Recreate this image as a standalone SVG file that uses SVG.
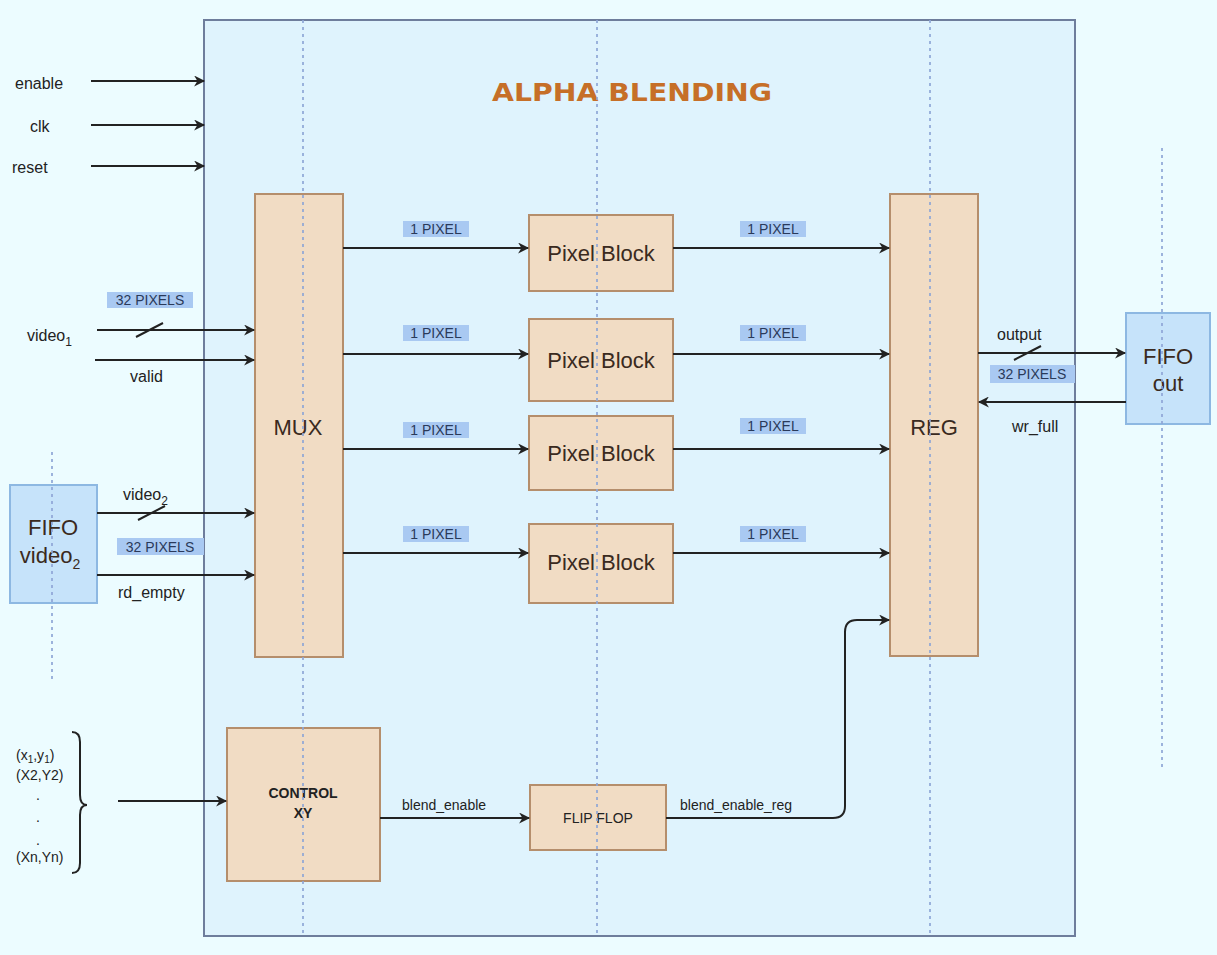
<svg xmlns="http://www.w3.org/2000/svg" width="1217" height="955" viewBox="0 0 1217 955">
<style>
.lbl{font-family:"Liberation Sans",Arial,sans-serif;font-size:16px;fill:#222}
.sm{font-family:"Liberation Sans",Arial,sans-serif;font-size:14px;fill:#222}
.blk{fill:#f1dcc4;stroke:#b58e6c;stroke-width:2}
.fifo{fill:#c6e3fa;stroke:#8db8e2;stroke-width:2}
.hl{fill:#a9c9f2}
.px{font-family:"Liberation Sans",Arial,sans-serif;font-size:14px;fill:#2a3a5a}
.big{font-family:"Liberation Sans",Arial,sans-serif;font-size:22px;fill:#3a2a20}
.w{stroke:#222;stroke-width:2;fill:none}
.dash{stroke:#8ea6d6;stroke-width:2;stroke-dasharray:3 4;fill:none;opacity:0.85}
</style>
<defs>
<marker id="ah" viewBox="0 0 10 10" refX="9" refY="5" markerWidth="12" markerHeight="11" orient="auto" markerUnits="userSpaceOnUse">
<path d="M0,0 L10,5 L0,10 L3,5 Z" fill="#222"/>
</marker>
</defs>
<rect x="0" y="0" width="1217" height="955" fill="#ecfcff"/>
<g id="alpha-blending">
<rect x="204" y="20" width="871" height="916" fill="#dff3fd" stroke="#6e7d9c" stroke-width="2"/>
<text x="632" y="101" text-anchor="middle" font-family="'DejaVu Sans',Verdana,sans-serif" font-weight="bold" font-size="24" fill="#c66f28" textLength="280" lengthAdjust="spacingAndGlyphs">ALPHA BLENDING</text>
</g>
<g id="mux"><rect class="blk" x="255" y="194" width="88" height="463"/><text class="big" x="298" y="435" text-anchor="middle" font-size="20">MUX</text></g>
<g id="pb1"><rect class="blk" x="529" y="215" width="144" height="76"/><text class="big" x="601" y="261" text-anchor="middle">Pixel Block</text></g>
<g id="pb2"><rect class="blk" x="529" y="319" width="144" height="82"/><text class="big" x="601" y="368" text-anchor="middle">Pixel Block</text></g>
<g id="pb3"><rect class="blk" x="529" y="416" width="144" height="74"/><text class="big" x="601" y="461" text-anchor="middle">Pixel Block</text></g>
<g id="pb4"><rect class="blk" x="529" y="524" width="144" height="79"/><text class="big" x="601" y="570" text-anchor="middle">Pixel Block</text></g>
<g id="reg"><rect class="blk" x="890" y="194" width="88" height="462"/><text class="big" x="934" y="435" text-anchor="middle" font-size="20">REG</text></g>
<g id="control-xy"><rect class="blk" x="227" y="728" width="153" height="153"/><text class="sm" x="303" y="798" text-anchor="middle" font-weight="bold">CONTROL</text><text class="sm" x="303" y="818" text-anchor="middle" font-weight="bold">XY</text></g>
<g id="flip-flop"><rect class="blk" x="530" y="785" width="136" height="65"/><text class="sm" x="598" y="823" text-anchor="middle">FLIP FLOP</text></g>
<g id="fifo-video2"><rect class="fifo" x="10" y="485" width="87" height="118"/><text class="big" x="53" y="535" text-anchor="middle" font-size="20" fill="#333">FIFO</text><text class="big" x="50" y="563" text-anchor="middle" font-size="20" fill="#333">video<tspan font-size="14" dy="6">2</tspan></text></g>
<g id="fifo-out"><rect class="fifo" x="1126" y="313" width="84" height="111"/><text class="big" x="1168" y="364" text-anchor="middle" font-size="20" fill="#333">FIFO</text><text class="big" x="1168" y="391" text-anchor="middle" font-size="20" fill="#333">out</text></g>
<g id="dashes">
<line class="dash" x1="303" y1="20" x2="303" y2="936"/>
<line class="dash" x1="597" y1="20" x2="597" y2="936"/>
<line class="dash" x1="930" y1="20" x2="930" y2="936"/>
<line class="dash" x1="1162" y1="148" x2="1162" y2="770"/>
<line class="dash" x1="52" y1="452" x2="52" y2="680"/>
</g>
<g id="connectors">
<line class="w" x1="91" y1="81" x2="204" y2="81" marker-end="url(#ah)"/>
<line class="w" x1="91" y1="125" x2="204" y2="125" marker-end="url(#ah)"/>
<line class="w" x1="91" y1="166" x2="204" y2="166" marker-end="url(#ah)"/>
<line class="w" x1="97" y1="330" x2="254" y2="330" marker-end="url(#ah)"/>
<line class="w" x1="136" y1="337" x2="163" y2="323"/>
<line class="w" x1="95" y1="360" x2="254" y2="360" marker-end="url(#ah)"/>
<line class="w" x1="97" y1="513" x2="254" y2="513" marker-end="url(#ah)"/>
<line class="w" x1="138" y1="520" x2="165" y2="506"/>
<line class="w" x1="97" y1="575" x2="254" y2="575" marker-end="url(#ah)"/>
<line class="w" x1="343" y1="248" x2="528" y2="248" marker-end="url(#ah)"/>
<line class="w" x1="343" y1="354" x2="528" y2="354" marker-end="url(#ah)"/>
<line class="w" x1="343" y1="449" x2="528" y2="449" marker-end="url(#ah)"/>
<line class="w" x1="343" y1="553" x2="528" y2="553" marker-end="url(#ah)"/>
<line class="w" x1="673" y1="248" x2="889" y2="248" marker-end="url(#ah)"/>
<line class="w" x1="673" y1="354" x2="889" y2="354" marker-end="url(#ah)"/>
<line class="w" x1="673" y1="449" x2="889" y2="449" marker-end="url(#ah)"/>
<line class="w" x1="673" y1="553" x2="889" y2="553" marker-end="url(#ah)"/>
<line class="w" x1="978" y1="353" x2="1125" y2="353" marker-end="url(#ah)"/>
<line class="w" x1="1014" y1="360" x2="1041" y2="346"/>
<line class="w" x1="1126" y1="402" x2="979" y2="402" marker-end="url(#ah)"/>
<line class="w" x1="118" y1="801" x2="226" y2="801" marker-end="url(#ah)"/>
<line class="w" x1="380" y1="818" x2="529" y2="818" marker-end="url(#ah)"/>
<path class="w" d="M666,818 L833,818 Q845,818 845,806 L845,632 Q845,620 857,620 L889,620" marker-end="url(#ah)"/>
<path class="w" d="M72,732 Q80,732 80,742 L80,795 Q80,805 87,805 Q80,805 80,815 L80,863 Q80,873 72,873"/>
</g>
<g id="labels">
<text class="lbl" x="15" y="89">enable</text>
<text class="lbl" x="30" y="132">clk</text>
<text class="lbl" x="12" y="173">reset</text>
<rect class="hl" x="107" y="292" width="86" height="16"/>
<text class="px" x="150" y="305" text-anchor="middle">32 PIXELS</text>
<text class="lbl" x="27" y="341">video<tspan font-size="12" dy="5">1</tspan></text>
<text class="lbl" x="130" y="382">valid</text>
<text class="lbl" x="123" y="500">video<tspan font-size="12" dy="5">2</tspan></text>
<rect class="hl" x="117" y="538" width="87" height="17"/>
<text class="px" x="160" y="552" text-anchor="middle">32 PIXELS</text>
<text class="lbl" x="118" y="598">rd_empty</text>
<rect class="hl" x="403" y="221" width="66" height="16"/><text class="px" x="436" y="234" text-anchor="middle">1 PIXEL</text>
<rect class="hl" x="740" y="221" width="66" height="16"/><text class="px" x="773" y="234" text-anchor="middle">1 PIXEL</text>
<rect class="hl" x="403" y="325" width="66" height="16"/><text class="px" x="436" y="338" text-anchor="middle">1 PIXEL</text>
<rect class="hl" x="740" y="325" width="66" height="16"/><text class="px" x="773" y="338" text-anchor="middle">1 PIXEL</text>
<rect class="hl" x="403" y="422" width="66" height="16"/><text class="px" x="436" y="435" text-anchor="middle">1 PIXEL</text>
<rect class="hl" x="740" y="418" width="66" height="16"/><text class="px" x="773" y="431" text-anchor="middle">1 PIXEL</text>
<rect class="hl" x="403" y="526" width="66" height="16"/><text class="px" x="436" y="539" text-anchor="middle">1 PIXEL</text>
<rect class="hl" x="740" y="526" width="66" height="16"/><text class="px" x="773" y="539" text-anchor="middle">1 PIXEL</text>
<text class="lbl" x="997" y="340">output</text>
<rect class="hl" x="990" y="365" width="85" height="18"/>
<text class="px" x="1032" y="379" text-anchor="middle">32 PIXELS</text>
<text class="lbl" x="1012" y="432">wr_full</text>
<text class="sm" x="402" y="810">blend_enable</text>
<text class="sm" x="680" y="810">blend_enable_reg</text>
<text class="sm" x="16" y="760">(x<tspan font-size="10" dy="3">1</tspan><tspan dy="-3">,y</tspan><tspan font-size="10" dy="3">1</tspan><tspan dy="-3">)</tspan></text>
<text class="sm" x="16" y="780" font-size="13">(X2,Y2)</text>
<text class="sm" x="36" y="800">.</text>
<text class="sm" x="36" y="822">.</text>
<text class="sm" x="36" y="845">.</text>
<text class="sm" x="16" y="862" font-size="13">(Xn,Yn)</text>
</g>
</svg>
